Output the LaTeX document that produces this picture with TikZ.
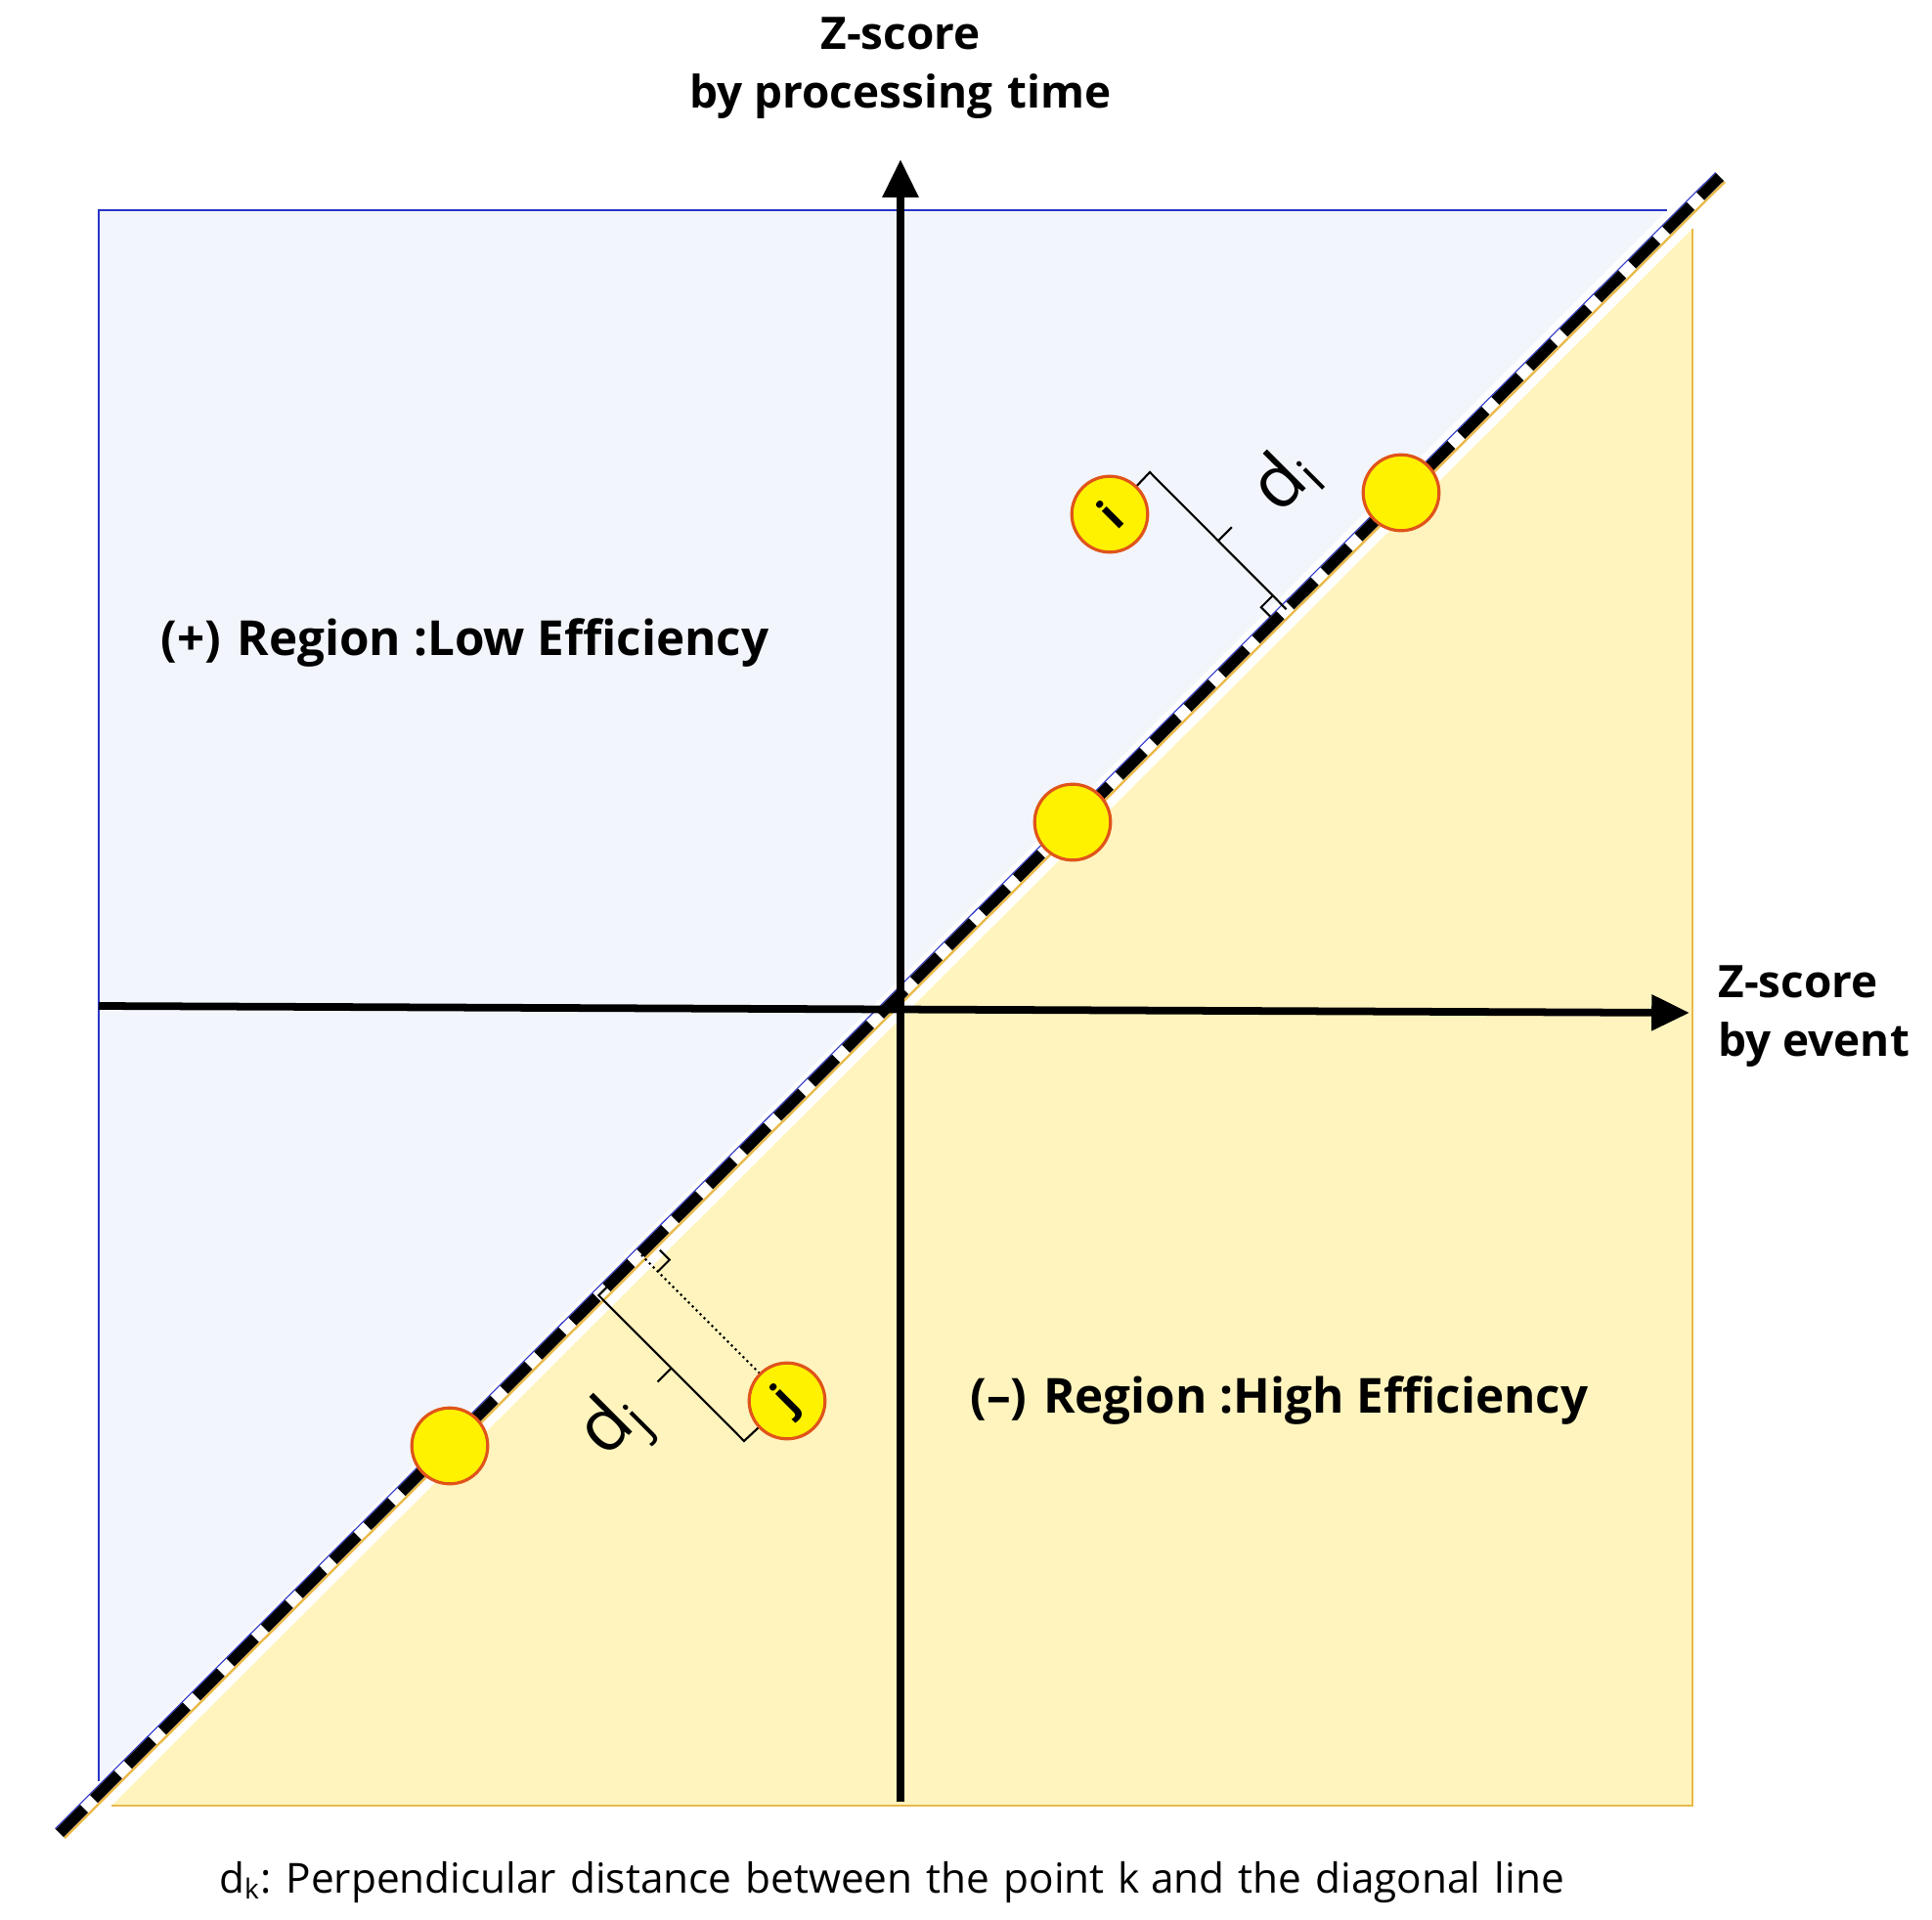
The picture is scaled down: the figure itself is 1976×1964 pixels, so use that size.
\documentclass[tikz,border=0pt]{standalone}
\usepackage{fontspec}
\setmainfont{Open Sans}
\usetikzlibrary{calc,arrows.meta}
\definecolor{bluefill}{HTML}{F2F5FB}
\definecolor{blueline}{HTML}{2A35C8}
\definecolor{yelfill}{HTML}{FFF4BE}
\definecolor{yelline}{HTML}{E9B949}
\definecolor{ptfill}{HTML}{FFF200}
\definecolor{ptline}{HTML}{E0541A}
\begin{document}
\begin{tikzpicture}[x=0.2835pt,y=-0.2835pt,
  axis/.style={line width=2.2pt,-{Triangle[length=11pt,width=10pt]}},
  pt/.style={circle,fill=ptfill,draw=ptline,line width=0.9pt,minimum size=22pt,inner sep=0pt},
  dim/.style={line width=0.6pt},
  lab/.style={font=\bfseries\fontsize{14}{18}\selectfont},
  axlab/.style={font=\bfseries\fontsize{13}{17}\selectfont,align=left}]
\useasboundingbox (0,0) rectangle (1976,1964);
% regions
\fill[bluefill] (101,215) -- (1705,215) -- (101,1822) -- cycle;
\draw[blueline,line width=0.5pt] (101,1822) -- (101,215) -- (1705,215);
\fill[yelfill] (114,1847) -- (1731,234) -- (1731,1847) -- cycle;
\draw[yelline,line width=0.5pt] (1731,234) -- (1731,1847) -- (114,1847);
% diagonal
\coordinate (dA) at (61,1875);
\coordinate (dB) at (1759,181);
\draw[blueline,line width=0.7pt] ($(dA)+(-4,-4)$) -- ($(dB)+(-4,-4)$);
\draw[yelline,line width=0.7pt] ($(dA)+(5,5)$) -- ($(dB)+(5,5)$);
\draw[white,line width=3.2pt] (dA) -- (dB);
\draw[black,line width=3.2pt,dash pattern=on 10pt off 4pt] (dA) -- (dB);
% axes
\coordinate (o) at (921,1029);
\coordinate (xl) at (101,1029);
\coordinate (xr) at (1728,1036);
\coordinate (yb) at (921,1843);
\coordinate (yt) at (921,163);
\draw[axis] (xl) -- (xr);
\draw[axis] (yb) -- (yt);
% labels
\node[axlab,align=center] (ylab) at (921,70) {Z-score\\by processing\,\,time};
\node[axlab,anchor=west] (xlab) at (1745,1040) {Z-score\\by event};
\node[lab,anchor=west] (plus) at (152,658) {(+)\,\,Region :Low Efficiency};
\node[lab,anchor=west] (minus) at (980,1433) {(\textendash)\,\,Region :High Efficiency};
\node[font=\fontsize{12}{15}\selectfont] (note) at (912,1925) {d\textsubscript{k}: Perpendicular\,\,distance\,\,between\,\,the\,\,point\,\,k and\,\,the\,\,diagonal\,\,line};
% i bracket
\coordinate (ic) at (1135,526);
\coordinate (icor) at ($(ic)+(41,-43)$);
\coordinate (ifoot) at ($(dA)!(icor)!(dB)$);
\draw[dim] (ic) -- (icor) -- (ifoot);
\coordinate (imid) at ($(icor)!0.5!(ifoot)$);
\draw[dim] (imid) -- ++(14,-14);
\draw[dim] ($(icor)!0.9!(ifoot)$) -- ++(-12,12) -- ++(10,10);
\node[rotate=45,font=\fontsize{21}{24}\selectfont,inner sep=0pt] (dil) at (1314,491) {d\textsubscript{i}};
% j bracket
\coordinate (jc) at (805,1433);
\coordinate (jcor) at ($(jc)+(-44,41)$);
\coordinate (jfoot) at ($(dA)!(jcor)!(dB)$);
\coordinate (jf2) at ($(dA)!(jc)!(dB)$);
\draw[dim] (jc) -- (jcor) -- (jfoot) -- ++(12,-12);
\draw[dim,densely dotted] (jc) -- (jf2);
\draw[dim] ($(jf2)!0.12!(jc)$) -- ++(12,-12) -- ++(-10,-10);
\draw[dim] ($(jcor)!0.5!(jfoot)$) -- ++(-14,14);
\node[rotate=45,font=\fontsize{21}{24}\selectfont,inner sep=0pt] (djl) at (630,1460) {d\textsubscript{j}};
% points
\node[pt] (p1) at (1433,504) {};
\node[pt] (p2) at (1097,841) {};
\node[pt] (p3) at (460,1479) {};
\node[pt,rotate=45,font=\bfseries\fontsize{13}{14}\selectfont] (pi) at (ic) {i};
\node[pt,rotate=45,font=\bfseries\fontsize{13}{14}\selectfont] (pj) at (jc) {j};
\end{tikzpicture}
\end{document}
